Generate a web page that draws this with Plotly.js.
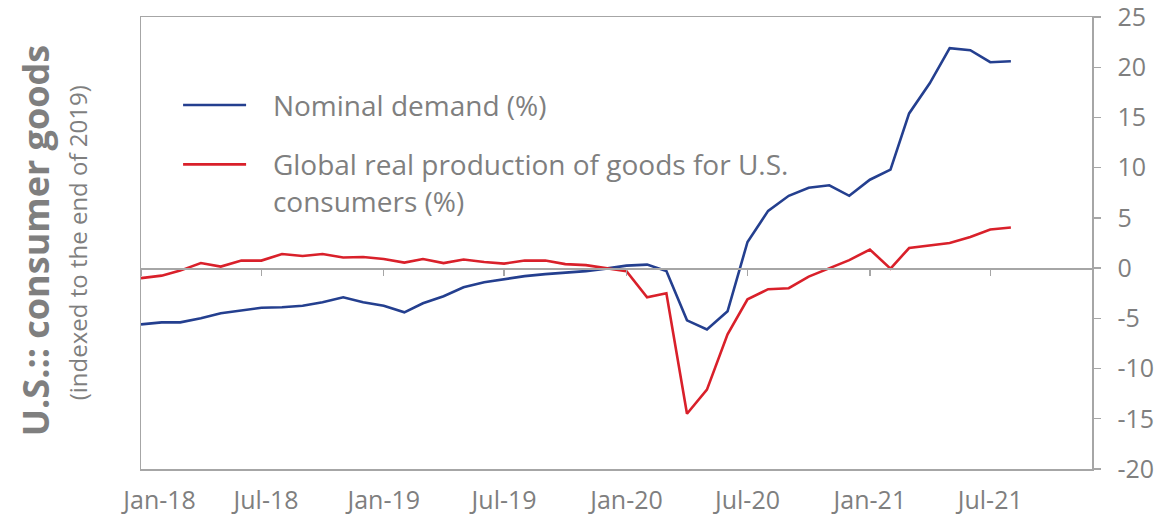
<!DOCTYPE html>
<html>
<head>
<meta charset="utf-8">
<script src="https://cdn.plot.ly/plotly-3.0.1.min.js"></script>
<style>html,body{margin:0;padding:0;background:#fff;}#chart{width:1162px;height:514px;}</style>
</head>
<body>
<div id="chart"></div>
<script>
// Monthly observations, Jan-18 .. Aug-21
const months = [
  '2018-01','2018-02','2018-03','2018-04','2018-05','2018-06','2018-07','2018-08','2018-09','2018-10','2018-11','2018-12',
  '2019-01','2019-02','2019-03','2019-04','2019-05','2019-06','2019-07','2019-08','2019-09','2019-10','2019-11','2019-12',
  '2020-01','2020-02','2020-03','2020-04','2020-05','2020-06','2020-07','2020-08','2020-09','2020-10','2020-11','2020-12',
  '2021-01','2021-02','2021-03','2021-04','2021-05','2021-06','2021-07','2021-08'
];
const nominalDemand = [
  -5.6, -5.4, -5.4, -5.0, -4.5, -4.2, -3.95, -3.9, -3.75, -3.4, -2.9, -3.4,
  -3.75, -4.4, -3.5, -2.8, -1.9, -1.4, -1.1, -0.8, -0.6, -0.45, -0.3, -0.05,
  0.25, 0.35, -0.3, -5.2, -6.1, -4.3, 2.6, 5.7, 7.2, 8.0, 8.25, 7.2,
  8.8, 9.8, 15.4, 18.4, 21.9, 21.7, 20.5, 20.6
];
const realProduction = [
  -1.0, -0.75, -0.25, 0.5, 0.15, 0.75, 0.75, 1.4, 1.2, 1.4, 1.05, 1.1,
  0.9, 0.55, 0.9, 0.5, 0.85, 0.6, 0.45, 0.75, 0.75, 0.4, 0.3, 0.0,
  -0.3, -2.9, -2.5, -14.5, -12.1, -6.6, -3.1, -2.1, -2.0, -0.85, -0.05, 0.8,
  1.85, -0.05, 2.0, 2.25, 2.5, 3.1, 3.85, 4.05
];
const seriesNames = [
  'Nominal demand (%)',
  'Global real production of goods for U.S.<br>consumers (%)'
];
const xLabelVals = ['2018-01-29','2018-07-08','2019-01-01','2019-07-01','2020-01-01','2020-07-01','2021-01-01','2021-07-01'];
const xLabelText = ['Jan-18','Jul-18','Jan-19','Jul-19','Jan-20','Jul-20','Jan-21','Jul-21'];
const yTicks = [-20,-15,-10,-5,0,5,10,15,20,25];
const yTickText = ['-20','-15','-10','-5','0','5','10','15','20','25'];

const FONT = 'Open Sans, Noto Sans, sans-serif';
const GREY = '#7f7f7f';
const AXIS = '#a6a6a6';
const xRange = ['2018-01-01','2021-12-01'];
const PAD = '\u00a0\u00a0\u00a0';

const traces = [
  {x: months.map(m => m + '-01'), y: nominalDemand, name: PAD + seriesNames[0], type: 'scatter', mode: 'lines',
   line: {color: '#243f8f', width: 2.6}, legendgroup: 'a', xaxis: 'x', yaxis: 'y'},
  {x: months.map(m => m + '-01'), y: realProduction, name: PAD + seriesNames[1].replace('<br>', '<br>' + PAD), type: 'scatter', mode: 'lines',
   line: {color: '#d9202a', width: 2.6}, legendgroup: 'b', xaxis: 'x', yaxis: 'y'},
  {x: [], y: [], xaxis: 'x2', yaxis: 'y', showlegend: false, hoverinfo: 'skip', type: 'scatter'}
];

const layout = {
  width: 1162, height: 514,
  margin: {l: 141, r: 70, t: 17, b: 45},
  paper_bgcolor: '#fff', plot_bgcolor: '#fff',
  font: {family: FONT, color: GREY},
  showlegend: true,
  legend: {
    x: 0.039, y: 0.86, xanchor: 'left', yanchor: 'top',
    bgcolor: 'rgba(0,0,0,0)', borderwidth: 0,
    font: {family: FONT, size: 28, color: GREY},
    itemwidth: 63, traceorder: 'grouped', tracegroupgap: 20, valign: 'top'
  },
  xaxis: {
    type: 'date', range: xRange, anchor: 'free', position: 20/45,
    showline: true, linecolor: AXIS, linewidth: 1.5,
    ticks: 'outside', ticklen: 6, tickwidth: 1.3, tickcolor: AXIS,
    tick0: '2018-01-01', dtick: 'M6',
    showticklabels: false, showgrid: false, zeroline: false, fixedrange: true
  },
  xaxis2: {
    type: 'date', range: xRange, overlaying: 'x', anchor: 'y', side: 'bottom',
    showline: true, mirror: true, linecolor: AXIS, linewidth: 1.5,
    ticks: '', tickmode: 'array', tickvals: xLabelVals, ticktext: xLabelText,
    tickfont: {family: FONT, size: 25, color: GREY}, ticklabelstandoff: 8,
    ticklabeloverflow: 'allow',
    showgrid: false, zeroline: false
  },
  yaxis: {
    range: [-20, 25], side: 'right', tickmode: 'array', tickvals: yTicks, ticktext: yTickText,
    ticks: 'outside', ticklen: 7, tickwidth: 1.3, tickcolor: AXIS,
    showline: true, mirror: true, linecolor: AXIS, linewidth: 1.5,
    tickfont: {family: FONT, size: 25, color: GREY}, ticklabelstandoff: 12,
    ticklabeloverflow: 'allow',
    showgrid: false, zeroline: false
  },
  annotations: [
    {xref: 'paper', yref: 'paper', x: -0.111, y: 0.505, xanchor: 'center', yanchor: 'middle',
     text: '<b>U.S.:: consumer goods</b>', textangle: -90, showarrow: false,
     font: {family: FONT, size: 36, color: GREY}},
    {xref: 'paper', yref: 'paper', x: -0.067, y: 0.5, xanchor: 'center', yanchor: 'middle',
     text: '(indexed to the end of 2019)', textangle: -90, showarrow: false,
     font: {family: FONT, size: 24, color: GREY}}
  ]
};

Plotly.newPlot('chart', traces, layout, {displayModeBar: false, staticPlot: true});
</script>
</body>
</html>
